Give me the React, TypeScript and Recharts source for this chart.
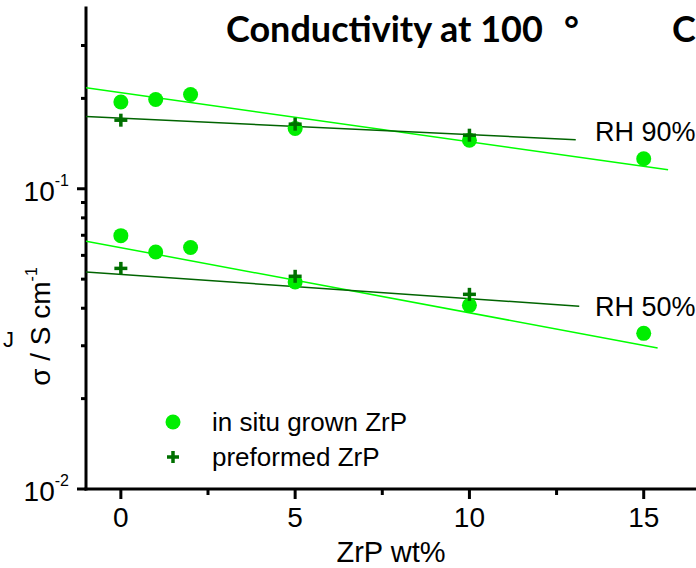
import React from 'react';
import { ComposedChart, Scatter, XAxis, YAxis } from 'recharts';

// ---- data ----
const wtInSitu = [0, 1, 2, 5, 10, 15];
const inSitu90 = [0.1946, 0.1983, 0.2061, 0.1587, 0.1451, 0.1259];
const inSitu50 = [0.0698, 0.0616, 0.0637, 0.0489, 0.0409, 0.033];
const wtPre = [0, 5, 10];
const pre90 = [0.1692, 0.1641, 0.1508];
const pre50 = [0.0543, 0.0511, 0.0445];

const fitInSitu90X = [-1, 15.7];
const fitInSitu90Y = [0.2168, 0.1158];
const fitPre90X = [-1, 13.05];
const fitPre90Y = [0.1742, 0.1457];
const fitInSitu50X = [-1, 15.4];
const fitInSitu50Y = [0.0669, 0.0295];
const fitPre50X = [-1, 13.15];
const fitPre50Y = [0.0528, 0.0406];

const xTicks = [0, 2.5, 5, 7.5, 10, 12.5, 15];
const xMajor = [0, 5, 10, 15];
const yTicks = [0.01, 0.02, 0.03, 0.04, 0.05, 0.06, 0.07, 0.08, 0.09, 0.1, 0.2, 0.3];
const yMajor = [0.01, 0.1];
const yMajorExp = ['-2', '-1'];

const titleText = 'Conductivity at 100';
const legendLabels = ['in situ grown ZrP', 'preformed ZrP'];
const rhLabels = ['RH 90%', 'RH 50%'];

const zip = (xs: number[], ys: number[]) => xs.map((x, i) => ({ x, y: ys[i] }));

const BRIGHT = '#00ee00';
const DARK = '#007000';
const DARK_LINE = '#006400';
const FONT = '"Liberation Sans", Arial, sans-serif';

const Circle = (p: any) => <circle cx={p.cx} cy={p.cy} r={7.5} fill={BRIGHT} />;
const Plus = (p: any) => (
  <g fill={DARK}>
    <rect x={p.cx - 6.5} y={p.cy - 1.75} width={13} height={3.5} />
    <rect x={p.cx - 1.75} y={p.cy - 6.5} width={3.5} height={13} />
  </g>
);
const NoShape = () => <g />;

const XTick = (p: any) => {
  const v = p.payload.value;
  const major = xMajor.includes(v);
  return (
    <g>
      <line x1={p.x} x2={p.x} y1={p.y} y2={p.y + (major ? 10 : 6)} stroke="#000" strokeWidth={3} />
      {major && (
        <text x={p.x} y={p.y + 38} textAnchor="middle" fontSize={28} fontFamily={FONT} fill="#000">
          {v}
        </text>
      )}
    </g>
  );
};

const YTick = (p: any) => {
  const v = p.payload.value;
  const idx = yMajor.findIndex((m) => Math.abs(m - v) < 1e-9);
  const major = idx >= 0;
  return (
    <g>
      <line x1={p.x} x2={p.x - (major ? 9 : 5)} y1={p.y} y2={p.y} stroke="#000" strokeWidth={3} />
      {major && (
        <text x={p.x - 17} y={p.y + 12} textAnchor="end" fontFamily={FONT} fill="#000">
          <tspan fontSize={28}>10</tspan>
          <tspan fontSize={16} dy={-15}>{yMajorExp[idx]}</tspan>
        </text>
      )}
    </g>
  );
};

export default function App() {
  return (
    <div style={{ position: 'absolute', left: 0, top: 0, width: 696, height: 568, background: '#fff' }}>
      <ComposedChart width={696} height={568} margin={{ top: 8, right: 0, bottom: 0, left: 0 }}>
        <XAxis
          type="number"
          dataKey="x"
          domain={[-1, 16.5]}
          ticks={xTicks}
          allowDataOverflow
          height={79}
          tickSize={0}
          tickMargin={0}
          tickLine={false}
          tick={<XTick />}
          interval={0}
          axisLine={{ stroke: '#000', strokeWidth: 3, strokeLinecap: 'square' }}
        />
        <YAxis
          type="number"
          dataKey="y"
          scale="log"
          domain={[0.01, 0.4]}
          ticks={yTicks}
          allowDataOverflow
          width={86}
          tickSize={0}
          tickMargin={0}
          tickLine={false}
          tick={<YTick />}
          interval={0}
          axisLine={{ stroke: '#000', strokeWidth: 3, strokeLinecap: 'square' }}
        />
        <Scatter data={zip(fitInSitu90X, fitInSitu90Y)} line={{ stroke: '#00ff00', strokeWidth: 1.5 }} stroke="#00ff00" shape={NoShape} isAnimationActive={false} legendType="none" />
        <Scatter data={zip(fitPre90X, fitPre90Y)} line={{ stroke: DARK_LINE, strokeWidth: 1.5 }} stroke={DARK_LINE} shape={NoShape} isAnimationActive={false} legendType="none" />
        <Scatter data={zip(fitInSitu50X, fitInSitu50Y)} line={{ stroke: '#00ff00', strokeWidth: 1.5 }} stroke="#00ff00" shape={NoShape} isAnimationActive={false} legendType="none" />
        <Scatter data={zip(fitPre50X, fitPre50Y)} line={{ stroke: DARK_LINE, strokeWidth: 1.5 }} stroke={DARK_LINE} shape={NoShape} isAnimationActive={false} legendType="none" />
        <Scatter data={zip(wtInSitu, inSitu90)} shape={Circle} isAnimationActive={false} />
        <Scatter data={zip(wtInSitu, inSitu50)} shape={Circle} isAnimationActive={false} />
        <Scatter data={zip(wtPre, pre90)} shape={Plus} isAnimationActive={false} />
        <Scatter data={zip(wtPre, pre50)} shape={Plus} isAnimationActive={false} />
      </ComposedChart>
      <svg width={696} height={568} style={{ position: 'absolute', left: 0, top: 0, pointerEvents: 'none' }}>
        <text x={226} y={42} fontFamily="Lato, sans-serif" fontWeight={700} fontSize={36} fill="#000">
          {titleText}
          <tspan x={564}>°</tspan>
          <tspan x={672}>C</tspan>
        </text>
        <text x={595} y={141} fontFamily={FONT} fontSize={27} fill="#000">{rhLabels[0]}</text>
        <text x={595} y={316} fontFamily={FONT} fontSize={27} fill="#000">{rhLabels[1]}</text>
        <circle cx={173} cy={422} r={7.5} fill={BRIGHT} />
        <g fill={DARK}>
          <rect x={167} y={455.25} width={12} height={3.5} />
          <rect x={171.25} y={451} width={3.5} height={12} />
        </g>
        <text x={212} y={431} fontFamily={FONT} fontSize={26} fill="#000">{legendLabels[0]}</text>
        <text x={212} y={466} fontFamily={FONT} fontSize={26} fill="#000">{legendLabels[1]}</text>
        <text x={391} y={562} textAnchor="middle" fontFamily={FONT} fontSize={29} fill="#000">ZrP wt%</text>
        <text transform="translate(50,326.5) rotate(-90)" textAnchor="middle" fontFamily={FONT} fill="#000">
          <tspan fontSize={28}>σ / S cm</tspan>
          <tspan fontSize={16} dy={-13}>-1</tspan>
        </text>
        <text x={3} y={347} fontFamily={FONT} fontSize={22} fill="#000">J</text>
      </svg>
    </div>
  );
}
